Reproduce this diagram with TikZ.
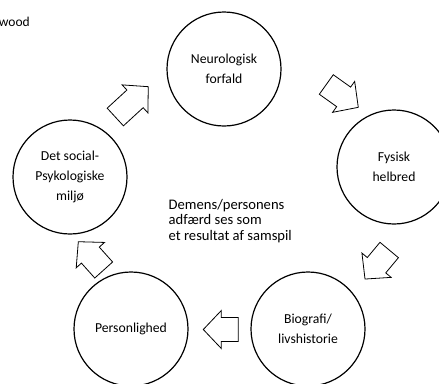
\documentclass[tikz,border=0pt]{standalone}
\usepackage{fontspec}
\setmainfont{Carlito}
\newcommand\blockarr[4]{%
  \draw[barrow, shift={(#1,#2)}, rotate=#3]
    (0,-12) -- ({#4-18},-12) -- ({#4-18},-19) -- (#4,0) -- ({#4-18},19) -- ({#4-18},12) -- (0,12) -- cycle;}
\begin{document}
\begin{tikzpicture}[x=1pt,y=-1pt,
  circ/.style={draw, circle, line width=1.2pt, minimum size=114pt, inner sep=0pt,
    align=center, font=\fontsize{13.7}{20}\selectfont},
  barrow/.style={draw, line width=0.8pt, fill=white, line join=miter}]
\useasboundingbox (0,0) rectangle (439,383);
\clip (0,0) rectangle (439,383);
\node[anchor=east, inner sep=0pt, font=\fontsize{13.5}{15}\selectfont] (src) at (30,21.5) {wood};
\node[circ] (neuro) at (224,69) {Neurologisk\\forfald};
\node[circ] (fys) at (394,167) {Fysisk\\helbred};
\node[circ] (soc) at (70,177) {Det social-\\Psykologiske\\miljø};
\node[circ] (pers) at (131,329) {Personlighed};
\node[circ] (bio) at (308,329) {Biografi/\\livshistorie};
\node[anchor=north west, align=left, inner sep=0pt, font=\fontsize{14.6}{15.6}\selectfont] (mid) at (168.5,199)
  {Demens/personens\\adfærd ses som\\et resultat af samspil};
\blockarr{115.3}{117}{42.6}{44.8}
\blockarr{326.3}{84.5}{-35.5}{39.3}
\blockarr{389.2}{250}{230.2}{37.8}
\blockarr{238.3}{329.5}{180}{35}
\blockarr{103.7}{270}{131.9}{38}
\end{tikzpicture}
\end{document}
